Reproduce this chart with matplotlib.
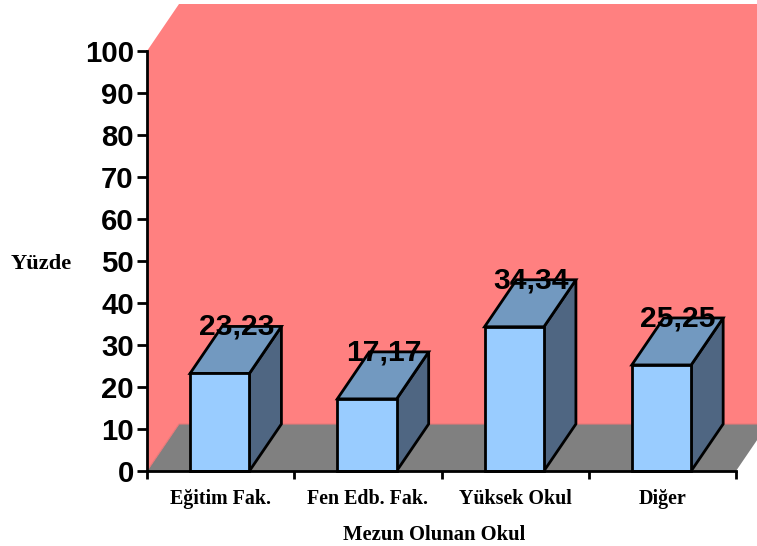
import matplotlib
matplotlib.use("Agg")
import matplotlib.pyplot as plt
from matplotlib.patches import Polygon

categories = ["Eğitim Fak.", "Fen Edb. Fak.", "Yüksek Okul", "Diğer"]
values = [23.23, 17.17, 34.34, 25.25]
y_ticks = [0, 10, 20, 30, 40, 50, 60, 70, 80, 90, 100]

W, H = 757, 546
fig = plt.figure(figsize=(W / 100, H / 100), dpi=100)
ax = fig.add_axes([147 / W, 1 - 471 / H, 589 / W, 420 / H])
ax.set_xlim(0, len(categories))
ax.set_ylim(0, 100)

# fake 3d depth, in data units
dx = 32 / 147.25
dy = 47 / 4.2
bar_w = 0.403
bar_shift = -0.006


def poly(pts, fc, ec="none", lw=0, z=1):
    ax.add_patch(Polygon(pts, closed=True, facecolor=fc, edgecolor=ec, linewidth=lw,
                         zorder=z, clip_on=False, joinstyle="miter"))


n = len(categories)
# back wall, side wall, floor
poly([(dx, dy), (n + dx, dy), (n + dx, 100 + dy), (dx, 100 + dy)], "#FF8080")
poly([(0, 0), (dx, dy), (dx, 100 + dy), (0, 100)], "#FF8080")
poly([(0, 0), (n, 0), (n + dx, dy), (dx, dy)], "#808080", z=1.5)
# thin reddish seam where the floor meets the walls
ax.plot([0, dx, n + dx], [0, dy, dy], color="#E87878", lw=0.8, zorder=1.6, clip_on=False)

for i, v in enumerate(values):
    x0 = i + 0.5 + bar_shift - bar_w / 2
    x1 = i + 0.5 + bar_shift + bar_w / 2
    poly([(x1, 0), (x1 + dx, dy), (x1 + dx, v + dy), (x1, v)], "#4F6682", "black", 2, 3)
    poly([(x0, v), (x1, v), (x1 + dx, v + dy), (x0 + dx, v + dy)], "#7299C0", "black", 2, 3)
    poly([(x0, 0), (x1, 0), (x1, v), (x0, v)], "#99CCFF", "black", 2, 3)
    ax.text(i + 0.5 + dx / 2 - 0.002, v + dy - 0.1, f"{v:.2f}".replace(".", ","),
            ha="center", va="center", fontsize=21.6, fontweight="bold",
            family="Liberation Sans", color="black", zorder=5, clip_on=False)

for s in ["top", "right"]:
    ax.spines[s].set_visible(False)
for s in ["left", "bottom"]:
    ax.spines[s].set_linewidth(2)
    ax.spines[s].set_zorder(4)
ax.patch.set_visible(False)

ax.set_yticks(y_ticks)
ax.set_yticklabels([str(t) for t in y_ticks], fontsize=21.2, fontweight="bold",
                   family="Liberation Sans")
ax.tick_params(axis="y", length=7, width=2, pad=2.5)

ax.set_xticks(range(n + 1))
ax.set_xticklabels([""] * (n + 1))
ax.tick_params(axis="x", length=6, width=2)
ax.set_xticks([i + 0.5 for i in range(n)], minor=True)
ax.set_xticklabels(categories, minor=True, fontsize=14.4, fontweight="bold",
                   family="Liberation Serif")
ax.tick_params(axis="x", which="minor", length=0, pad=13)

fig.text(434 / W, 1 - 535 / H, "Mezun Olunan Okul", ha="center", va="center",
         fontsize=14.9, fontweight="bold", family="Liberation Serif")
fig.text(41 / W, 1 - 264 / H, "Yüzde", ha="center", va="center",
         fontsize=16.2, fontweight="bold", family="Liberation Serif")

fig.savefig("out.png", dpi=100)
